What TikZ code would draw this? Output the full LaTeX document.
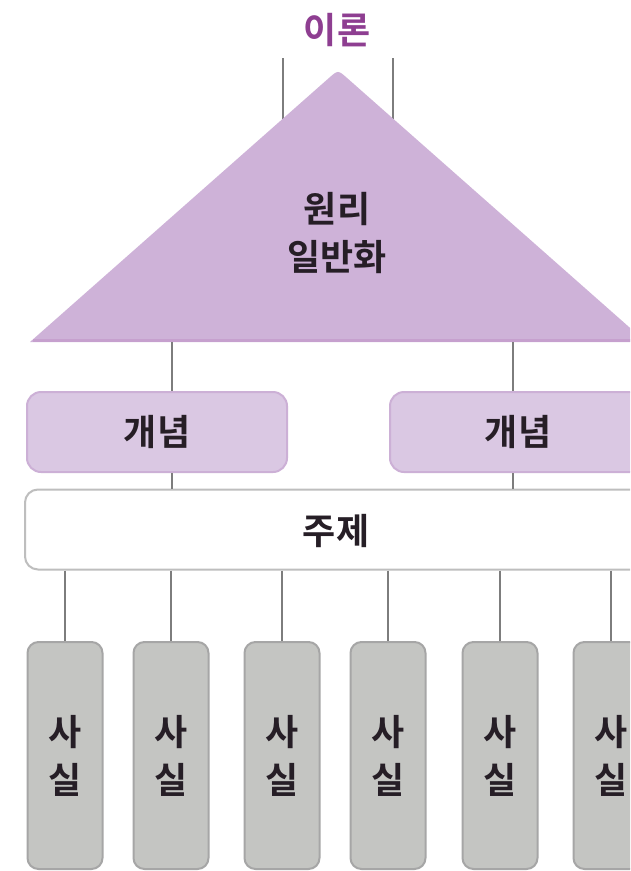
\documentclass[tikz,border=0pt]{standalone}
\usepackage{fontspec}
\newfontfamily\kr{Noto Sans CJK KR}[BoldFont={Noto Sans CJK KR Bold}]
\usetikzlibrary{calc,backgrounds}
\definecolor{titlepurple}{RGB}{142,62,145}
\definecolor{trifill}{RGB}{206,178,216}
\definecolor{triedge}{RGB}{198,160,206}
\definecolor{conceptfill}{RGB}{218,200,227}
\definecolor{conceptedge}{RGB}{204,176,214}
\definecolor{themeedge}{RGB}{190,190,190}
\definecolor{factfill}{RGB}{196,197,194}
\definecolor{factedge}{RGB}{166,166,166}
\definecolor{linkgray}{RGB}{125,125,125}
\definecolor{txt}{RGB}{38,30,38}
\tikzset{
  lbl/.style={font=\kr\bfseries\fontsize{36}{48}\selectfont, text=txt, inner sep=0pt},
  titletext/.style={font=\kr\bfseries\fontsize{36}{40}\selectfont, text=titlepurple, inner sep=0pt},
  conceptbox/.style={lbl, draw=conceptedge, line width=2pt, fill=conceptfill, rounded corners=14pt, minimum height=80pt},
  themebox/.style={lbl, draw=themeedge, line width=2pt, fill=white, rounded corners=13pt, minimum width=623pt, minimum height=80pt},
  factbox/.style={lbl, align=center, draw=factedge, line width=2pt, fill=factfill, rounded corners=11pt, minimum width=75pt, minimum height=227pt},
  link/.style={draw=linkgray, line width=1.8pt},
}
\begin{document}
\begin{tikzpicture}[x=1pt,y=-1pt]
\useasboundingbox (0,0) rectangle (630,871);
\clip (0,0) rectangle (630,871);
\fill[white] (0,0) rectangle (630,871);

% theory title and triangle
\node[titletext] (theory) at (337,30) {이론};
\coordinate (apex) at (338,70);
\coordinate (bl) at (30,342);
\coordinate (br) at (646,342);
\coordinate (tl1) at (283,58);
\coordinate (tl2) at (393,58);
\draw[link] (tl1) -- ($(tl1)+(0,70)$);
\draw[link] (tl2) -- ($(tl2)+(0,70)$);
\fill[trifill] (bl) -- ($(apex)!12pt!(bl)$) .. controls (apex) .. ($(apex)!12pt!(br)$) -- (br) -- cycle;
\draw[triedge, line width=3pt] ($(bl)+(3,-1.5)$) -- ($(br)+(-3,-1.5)$);
\node[lbl, align=center] (principle) at (337,233) {원리\\일반화};

% concepts
\node[conceptbox, minimum width=260pt] (concept1) at (157,432) {개념};
\node[conceptbox, minimum width=256pt] (concept2) at (518,432) {개념};
\coordinate (b1) at (172,342);
\coordinate (b2) at (513,342);
\draw[link] (b1) -- (b1 |- concept1.north);
\draw[link] (b2) -- (b2 |- concept2.north);

% theme
\node[themebox] (theme) at (336.5,529.5) {};
\node[lbl] (themetext) at (336,531) {주제};
\draw[link] (b1 |- concept1.south) -- (b1 |- theme.north);
\draw[link] (b2 |- concept2.south) -- (b2 |- theme.north);

% facts
\foreach \i/\x in {1/65,2/171,3/282,4/388,5/500,6/611}{
  \node[factbox] (fact\i) at (\x,755.5) {사\\실};
  \draw[link] (fact\i.north |- theme.south) -- (fact\i.north);
}
\end{tikzpicture}
\end{document}
